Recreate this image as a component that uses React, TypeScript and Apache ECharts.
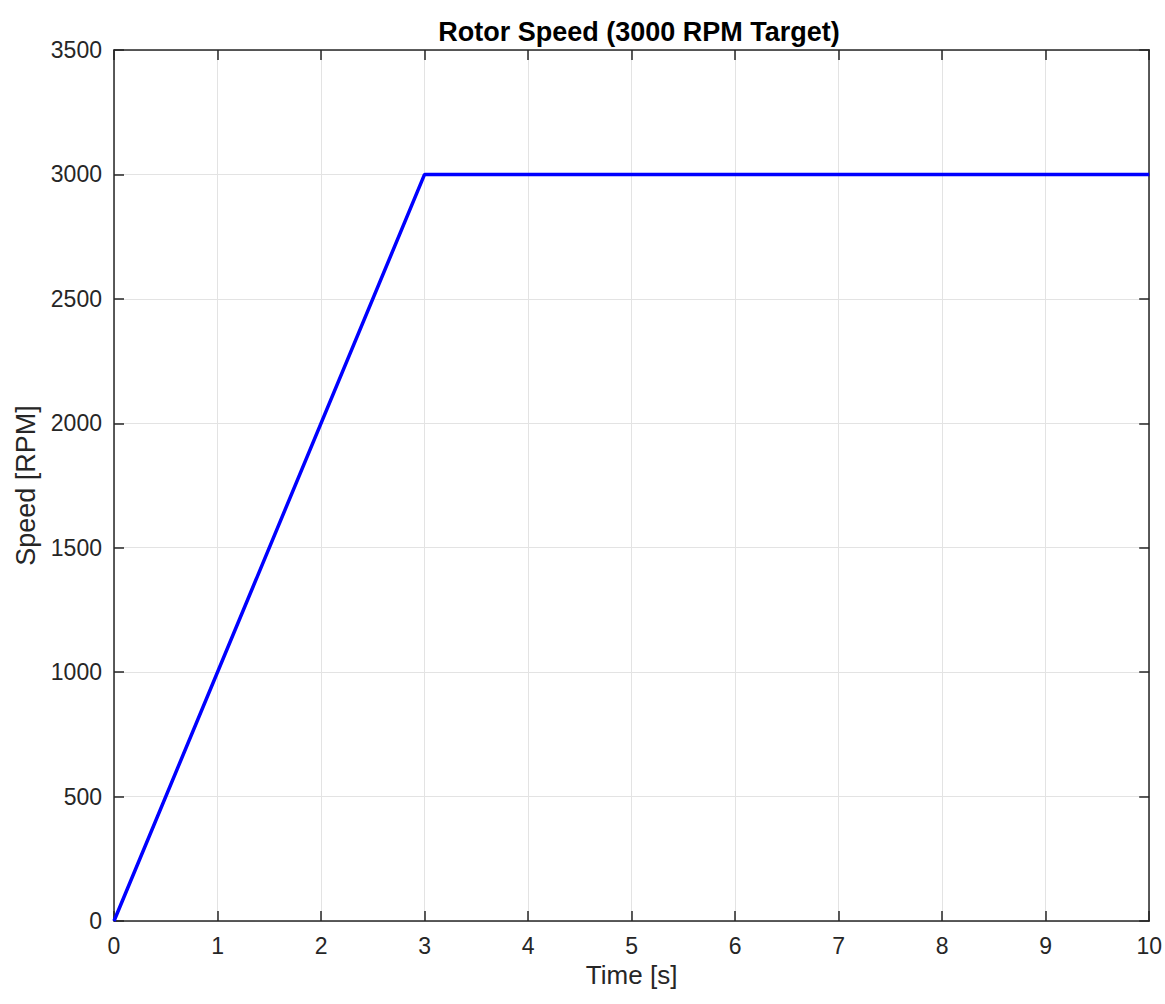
import React, { useEffect, useRef } from "react";
import * as echarts from "echarts";

const timeValues = [0, 3, 10];
const speedValues = [0, 3000, 3000];
const xTicks = [0, 1, 2, 3, 4, 5, 6, 7, 8, 9, 10];
const yTicks = [0, 500, 1000, 1500, 2000, 2500, 3000, 3500];
const titleText = "Rotor Speed (3000 RPM Target)";
const xName = "Time [s]";
const yName = "Speed [RPM]";

const FONT = '"Liberation Sans", Arial, Helvetica, sans-serif';

export default function App() {
  const ref = useRef<HTMLDivElement>(null);
  useEffect(() => {
    if (!ref.current) return;
    const chart = echarts.init(ref.current, undefined, { renderer: "svg" });
    const axisLine = () => ({ show: true, onZero: false, lineStyle: { color: "#262626", width: 1.5 } });
    const tick = () => ({ show: true, inside: true, length: 10, lineStyle: { color: "#262626", width: 1.5 } });
    chart.setOption({
      animation: false,
      backgroundColor: "#ffffff",
      title: {
        text: titleText,
        left: 634,
        textAlign: "center",
        top: 13,
        textStyle: { fontFamily: FONT, fontSize: 27, fontWeight: "bold", color: "#000" },
      },
      grid: { left: 114, top: 50, right: 11, bottom: 83, containLabel: false },
      xAxis: [
        {
          type: "value",
          min: xTicks[0],
          max: xTicks[xTicks.length - 1],
          interval: 1,
          name: xName,
          nameLocation: "middle",
          nameGap: 41,
          nameTextStyle: { fontFamily: FONT, fontSize: 26, color: "#262626" },
          axisLine: axisLine(),
          axisTick: tick(),
          axisLabel: { fontFamily: FONT, fontSize: 23, color: "#262626", margin: 13, formatter: (v: number) => String(v) },
          splitLine: { show: true, lineStyle: { color: "#e3e3e3", width: 1 } },
        },
        {
          type: "value",
          position: "top",
          min: xTicks[0],
          max: xTicks[xTicks.length - 1],
          interval: 1,
          axisLine: axisLine(),
          axisTick: tick(),
          axisLabel: { show: false },
          splitLine: { show: false },
        },
      ],
      yAxis: [
        {
          type: "value",
          min: yTicks[0],
          max: yTicks[yTicks.length - 1],
          interval: 500,
          name: yName,
          nameLocation: "middle",
          nameGap: 62,
          nameTextStyle: { fontFamily: FONT, fontSize: 27, color: "#262626" },
          axisLine: axisLine(),
          axisTick: tick(),
          axisLabel: { fontFamily: FONT, fontSize: 23, color: "#262626", margin: 12, formatter: (v: number) => String(v) },
          splitLine: { show: true, lineStyle: { color: "#e3e3e3", width: 1 } },
        },
        {
          type: "value",
          position: "right",
          min: yTicks[0],
          max: yTicks[yTicks.length - 1],
          interval: 500,
          axisLine: axisLine(),
          axisTick: tick(),
          axisLabel: { show: false },
          splitLine: { show: false },
        },
      ],
      series: [
        {
          type: "line",
          data: timeValues.map((t, i) => [t, speedValues[i]]),
          showSymbol: false,
          symbol: "none",
          lineStyle: { color: "#0000ff", width: 3.5 },
          z: 5,
        },
      ],
    });
    return () => chart.dispose();
  }, []);
  return (
    <div
      ref={ref}
      style={{ position: "fixed", left: 0, top: 0, width: 1165, height: 1004, background: "#fff" }}
    />
  );
}
